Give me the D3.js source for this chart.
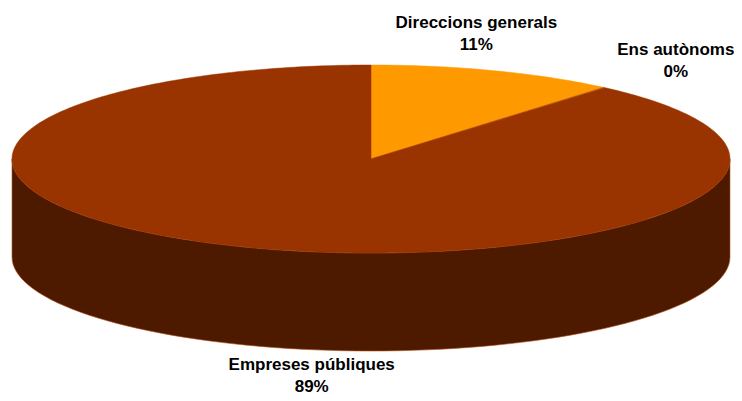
<!DOCTYPE html>
<html>
<head>
<meta charset="utf-8">
<script src="https://cdn.jsdelivr.net/npm/d3@7"></script>
<style>
  body { margin: 0; background: #fff; }
  text { font-family: "Liberation Sans", Arial, sans-serif; font-weight: bold; font-size: 17px; fill: #000; }
</style>
</head>
<body>
<div id="chart"></div>
<script>
var categories = ["Direccions generals", "Ens autònoms", "Empreses públiques"];
var values = [11.2, 0.1, 88.7];
var labels = ["11%", "0%", "89%"];
var topColors = ["#FF9900", "#CC6600", "#993300"];
var sideColors = ["#805000", "#663300", "#4D1A00"];

var width = 742, height = 401;
var cx = 371, cy = 159, rx = 359, ry = 94, depth = 98;

// label offsets relative to the projected slice midpoint
var labelShift = [[-6, -52], [95, -40], [53, 132]];

var svg = d3.select("#chart").append("svg")
  .attr("width", width)
  .attr("height", height);

var pie = d3.pie().sort(null).value(function (d) { return d; });
var arcs = pie(values);

function px(a, k) { return cx + rx * (k || 1) * Math.sin(a); }
function py(a, k, dy) { return cy - ry * (k || 1) * Math.cos(a) + (dy || 0); }

// side walls, only the front half (pi/2 .. 3pi/2) is visible
var side = svg.append("g");
arcs.forEach(function (d, i) {
  var a0 = Math.max(d.startAngle, Math.PI / 2);
  var a1 = Math.min(d.endAngle, 3 * Math.PI / 2);
  if (a1 <= a0) return;
  var steps = 80, pts = [], j, a;
  for (j = 0; j <= steps; j++) {
    a = a0 + (a1 - a0) * j / steps;
    pts.push([px(a), py(a)]);
  }
  for (j = steps; j >= 0; j--) {
    a = a0 + (a1 - a0) * j / steps;
    pts.push([px(a), py(a, 1, depth)]);
  }
  side.append("path")
    .attr("d", d3.line()(pts) + "Z")
    .attr("fill", sideColors[i])
    .attr("stroke", "#b4501e")
    .attr("stroke-width", 0.6);
});

// top face
var topG = svg.append("g");
arcs.forEach(function (d, i) {
  var steps = Math.max(4, Math.ceil((d.endAngle - d.startAngle) * 60));
  var pts = [[cx, cy]];
  for (var j = 0; j <= steps; j++) {
    var a = d.startAngle + (d.endAngle - d.startAngle) * j / steps;
    pts.push([px(a), py(a)]);
  }
  topG.append("path")
    .attr("d", d3.line()(pts) + "Z")
    .attr("fill", topColors[i])
    .attr("stroke", topColors[i])
    .attr("stroke-width", 0.5);
});

// labels
var lab = svg.append("g");
arcs.forEach(function (d, i) {
  var mid = (d.startAngle + d.endAngle) / 2;
  var x = px(mid, 0.9) + labelShift[i][0];
  var y = py(mid, 0.9) + labelShift[i][1];
  var t = lab.append("text").attr("text-anchor", "middle")
    .attr("x", x).attr("y", y);
  t.append("tspan").attr("x", x).text(categories[i]);
  t.append("tspan").attr("x", x).attr("dy", 22).text(labels[i]);
});
</script>
</body>
</html>
